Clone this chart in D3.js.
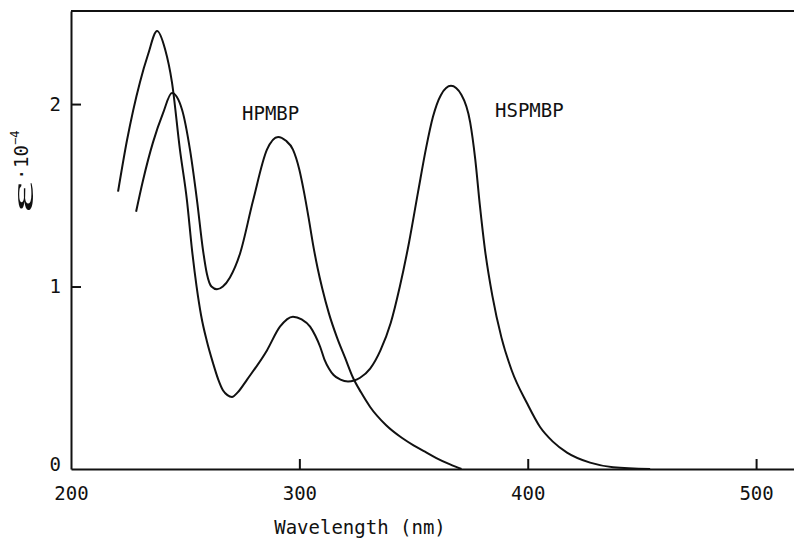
<!DOCTYPE html>
<html>
<head>
<meta charset="utf-8">
<script src="https://cdn.jsdelivr.net/npm/d3@7"></script>
<style>
  body { margin: 0; background: #fff; }
  svg { display: block; }
  text { font-family: "DejaVu Sans Mono", monospace; fill: #111; }
</style>
</head>
<body>
<div id="chart"></div>
<script>
// absorption spectra, values (nm, eps * 1e-4)
const hspmbpWl = [220.6, 224.5, 230.2, 233.7, 237.7, 241.2, 244.2, 247.7, 250.8, 253.0, 255.0, 257.0, 259.5, 262.2, 264.5, 266.6, 268.5, 270.5, 273.0, 277.1, 285.8, 291.5, 297.2, 301.0, 304.7, 307.0, 309.1, 311.0, 313.0, 315.0, 318.0, 321.3, 324.0, 326.6, 331.0, 335.5, 340.0, 344.0, 348.0, 352.0, 355.5, 358.5, 362.0, 366.4, 371.0, 374.8, 377.0, 379.0, 381.3, 384.5, 388.5, 393.0, 399.7, 405.4, 411.0, 417.2, 427.3, 437.4, 453.6];
const hspmbpEps = [1.52, 1.80, 2.12, 2.27, 2.40, 2.30, 2.12, 1.75, 1.47, 1.20, 1.00, 0.84, 0.70, 0.58, 0.49, 0.43, 0.405, 0.395, 0.42, 0.49, 0.65, 0.78, 0.835, 0.82, 0.78, 0.73, 0.67, 0.60, 0.55, 0.515, 0.49, 0.48, 0.485, 0.50, 0.55, 0.65, 0.80, 1.00, 1.24, 1.52, 1.76, 1.93, 2.05, 2.10, 2.05, 1.90, 1.70, 1.45, 1.20, 0.95, 0.72, 0.54, 0.36, 0.23, 0.15, 0.09, 0.035, 0.01, 0.0];

const hpmbpWl = [228.5, 231.5, 235.9, 240.3, 244.2, 248.6, 252.1, 255.2, 257.8, 259.5, 261.5, 263.9, 266.5, 269.6, 274.0, 279.7, 285.8, 290.7, 294.0, 297.2, 300.0, 302.0, 304.0, 306.0, 308.0, 310.0, 313.0, 316.5, 320.0, 323.5, 327.0, 331.0, 338.0, 345.0, 350.0, 355.0, 360.0, 366.0, 371.0];
const hpmbpEps = [1.41, 1.58, 1.79, 1.95, 2.06, 1.97, 1.75, 1.47, 1.20, 1.07, 1.00, 0.985, 1.00, 1.05, 1.18, 1.47, 1.75, 1.82, 1.80, 1.75, 1.64, 1.52, 1.38, 1.23, 1.10, 0.99, 0.85, 0.72, 0.61, 0.50, 0.42, 0.34, 0.24, 0.17, 0.13, 0.095, 0.06, 0.025, 0.0];

const seriesNames = ['HPMBP', 'HSPMBP'];
const xTickValues = [200, 300, 400, 500];
const yTickValues = [0, 1, 2];

const width = 794, height = 540;
const svg = d3.select('#chart').append('svg')
    .attr('width', width)
    .attr('height', height);

const x = d3.scaleLinear().domain([200, 516.6]).range([71, 794]);
const y = d3.scaleLinear().domain([0, 2.51]).range([469, 11]);

// x axis, ticks pointing up into the plot
const xAxis = svg.append('g')
    .attr('transform', 'translate(0,' + y(0) + ')')
    .call(d3.axisBottom(x).tickValues(xTickValues).tickSize(-10).tickSizeOuter(0).tickPadding(18));
xAxis.selectAll('text').style('font-size', '19px');
xAxis.selectAll('.tick').filter(d => d === 200).select('line').remove();

// y axis, ticks pointing right
const yAxis = svg.append('g')
    .attr('transform', 'translate(' + x(200) + ',0)')
    .call(d3.axisLeft(y).tickValues(yTickValues).tickSize(-10).tickSizeOuter(0).tickPadding(10).tickFormat(d3.format('d')));
yAxis.selectAll('text').style('font-size', '19px');
yAxis.selectAll('.tick').filter(d => d === 0).select('line').remove();
yAxis.selectAll('.tick').filter(d => d === 0).select('text').attr('dy', '0.1em');

svg.selectAll('.domain, .tick line').attr('stroke', '#111').attr('stroke-width', 2);

// top border
svg.append('line')
    .attr('x1', x(200)).attr('x2', width)
    .attr('y1', y(2.51)).attr('y2', y(2.51))
    .attr('stroke', '#111').attr('stroke-width', 2);

const line = d3.line()
    .x(d => x(d[0]))
    .y(d => y(d[1]))
    .curve(d3.curveMonotoneX);

const series = [
    d3.zip(hpmbpWl, hpmbpEps),
    d3.zip(hspmbpWl, hspmbpEps)
];

svg.selectAll('path.spec')
    .data(series)
    .enter()
    .append('path')
    .attr('class', 'spec')
    .attr('fill', 'none')
    .attr('stroke', '#111')
    .attr('stroke-width', 2)
    .attr('d', line);

// curve labels
svg.append('text')
    .attr('x', 242).attr('y', 120)
    .style('font-size', '19px')
    .text(seriesNames[0]);
svg.append('text')
    .attr('x', 495).attr('y', 117)
    .style('font-size', '19px')
    .text(seriesNames[1]);

// axis titles
svg.append('text')
    .attr('x', 360).attr('y', 534)
    .attr('text-anchor', 'middle')
    .style('font-size', '19px')
    .text('Wavelength (nm)');

const yTitle = svg.append('g')
    .attr('transform', 'translate(23,174) rotate(-90)');
yTitle.append('text')
    .attr('x', -39).attr('y', 10)
    .attr('textLength', 32)
    .attr('lengthAdjust', 'spacingAndGlyphs')
    .style('font-family', '"Liberation Serif", serif')
    .style('font-size', '32px')
    .text('ε');
yTitle.append('text')
    .attr('x', -6).attr('y', 5)
    .style('font-size', '19px')
    .text('·');
yTitle.append('text')
    .attr('x', 6).attr('y', 5)
    .style('font-size', '19px')
    .text('10');
yTitle.append('text')
    .attr('x', 29).attr('y', -4)
    .style('font-size', '12px')
    .text('−4');
</script>
</body>
</html>
